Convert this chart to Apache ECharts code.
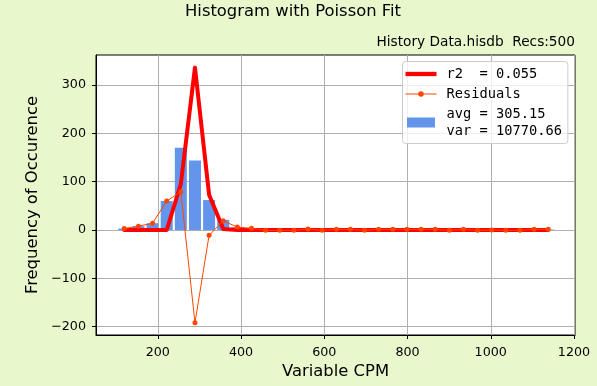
<!DOCTYPE html>
<html><head><meta charset="utf-8">
<script src="https://cdn.jsdelivr.net/npm/echarts@6/dist/echarts.min.js"></script>
<style>html,body{margin:0;padding:0;background:#E8F8CC;} #c{width:597px;height:386px;}</style>
</head><body><div id="c"></div>
<script>
// Bin centres (Variable CPM)
const binCenters = [119.6, 153.6, 187.5, 221.5, 255.4, 289.4, 323.3, 357.3, 391.2, 425.2, 459.1, 493.1, 527.0, 561.0, 594.9, 628.9, 662.8, 696.8, 730.7, 764.7, 798.6, 832.6, 866.5, 900.5, 934.4, 968.4, 1002.3, 1036.3, 1070.2, 1104.2, 1138.1];
// Histogram counts
const counts = [3, 8, 14, 60, 170, 144, 62, 21, 6, 3, 0, 0, 0, 1, 0, 1, 1, 0, 1, 1, 1, 1, 1, 0, 1, 0, 0, 0, 0, 1, 1];
// Poisson fit
const fitValues = [0, 0, 0, 0, 95, 336, 73, 2, 0, 0, 0, 0, 0, 0, 0, 0, 0, 0, 0, 0, 0, 0, 0, 0, 0, 0, 0, 0, 0, 0, 0];
// Residuals
const residuals = [3, 8, 14, 60, 79, -192, -11, 19, 6, 3.5, -0.7, -0.7, -0.7, 2, -0.7, 1.4, 1.4, -0.7, 1.4, 1.4, 1.4, 1.4, 1.4, -0.7, 1.4, -0.7, 0, -0.7, -0.7, 1.4, 1.4];
const xTicks = [200, 400, 600, 800, 1000, 1200];
const yTicks = [-200, -100, 0, 100, 200, 300];
const fitLabel = 'r2  = 0.055';
const resLabel = 'Residuals';
const histLabel = 'avg = 305.15\nvar = 10770.66';
const titleText = 'Histogram with Poisson Fit';
const subTitleText = 'History Data.hisdb  Recs:500';
const xName = 'Variable CPM';
const yName = 'Frequency of Occurence';

const pair = (ys) => binCenters.map((x, i) => [x, ys[i]]);
const fmt = (v) => String(v).replace('-', '\u2212');
const font = 'DejaVu Sans';

const fitIcon = 'path://M0,0 L31,0 L31,4.3 L0,4.3 Z';
const resIcon = 'path://M0,2 L28,2 L28,3 L0,3 Z M11.5,2.5 A2.5,2.5 0 1 1 16.5,2.5 A2.5,2.5 0 1 1 11.5,2.5 Z';

const chart = echarts.init(document.getElementById('c'), null, {renderer: 'canvas'});
chart.setOption({
  backgroundColor: '#E8F8CC',
  animation: false,
  title: [
    {text: titleText, left: 185, top: 3.5, padding: 0,
     textStyle: {fontFamily: font, fontSize: 16.4, fontWeight: 'normal', color: '#000', lineHeight: 17}},
    {text: subTitleText, right: 22, top: 35, padding: 0,
     textStyle: {fontFamily: font, fontSize: 13.7, fontWeight: 'normal', color: '#000', lineHeight: 14}}
  ],
  grid: {left: 96, right: 22, top: 55, bottom: 51, containLabel: false, outerBoundsMode: 'none',
         show: true, backgroundColor: '#fff', borderColor: '#000', borderWidth: 1},
  legend: {
    orient: 'vertical', left: 402.5, top: 61.5,
    padding: [4, 6, 4, 3], itemGap: 3, itemWidth: 31, itemHeight: 10,
    backgroundColor: 'rgba(255,255,255,0.8)', borderColor: '#cccccc', borderWidth: 1, borderRadius: 3,
    textStyle: {fontFamily: 'DejaVu Sans Mono', fontSize: 13.7, lineHeight: 17, color: '#000', padding: [0, 0, 0, 5]},
    data: [
      {name: fitLabel, icon: fitIcon},
      {name: resLabel, icon: resIcon},
      {name: histLabel, icon: 'path://M1.5,0 L29.5,0 L29.5,10 L1.5,10 Z'}
    ]
  },
  xAxis: {
    type: 'value', min: 51.6, max: 1202.4,
    name: xName, nameLocation: 'middle', nameGap: 26,
    nameTextStyle: {fontFamily: font, fontSize: 16.4, color: '#000'},
    axisLine: {show: true, onZero: false, lineStyle: {color: '#000', width: 1}},
    axisTick: {show: true, inside: false, length: 4, customValues: xTicks, lineStyle: {color: '#000'}},
    axisLabel: {customValues: xTicks, margin: 11, fontFamily: font, fontSize: 12.7, color: '#000', formatter: fmt},
    splitLine: {show: true, lineStyle: {color: '#b0b0b0', width: 1}}
  },
  yAxis: {
    type: 'value', min: -217.2, max: 362.1,
    name: yName, nameLocation: 'middle', nameGap: 55,
    nameTextStyle: {fontFamily: font, fontSize: 16.4, color: '#000'},
    axisLine: {show: true, onZero: false, lineStyle: {color: '#000', width: 1}},
    axisTick: {show: true, inside: false, length: 4, customValues: yTicks, lineStyle: {color: '#000'}},
    axisLabel: {customValues: yTicks, margin: 10, fontFamily: font, fontSize: 12.7, color: '#000', formatter: fmt},
    splitLine: {show: true, lineStyle: {color: '#b0b0b0', width: 1}}
  },
  series: [
    {name: histLabel, type: 'bar', data: pair(counts), barWidth: 12, z: 2,
     itemStyle: {color: '#6495ED'}},
    {name: fitLabel, type: 'line', data: pair(fitValues), symbol: 'none', z: 3,
     lineStyle: {color: '#FF0000', width: 4, join: 'round', cap: 'round'}, itemStyle: {color: '#FF0000'}},
    {name: resLabel, type: 'line', data: pair(residuals), symbol: 'circle', symbolSize: 5, showSymbol: true, z: 4,
     lineStyle: {color: '#FF4500', width: 1}, itemStyle: {color: '#FF4500'}}
  ]
});
</script></body></html>
